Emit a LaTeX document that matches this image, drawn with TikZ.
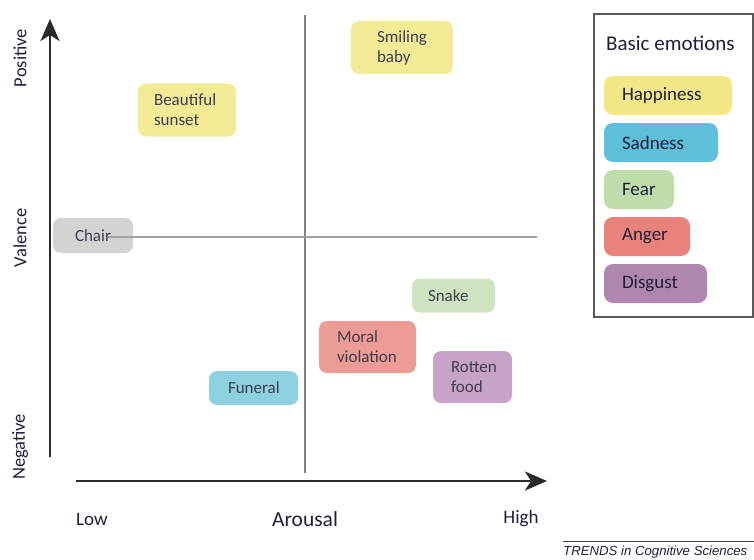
\documentclass[tikz,border=0pt]{standalone}
\usepackage{fontspec}
\setmainfont{Carlito}
\newfontfamily\trendsfont{Liberation Sans}
\usetikzlibrary{arrows.meta}

% box fills: lighter tints in the plot, stronger ones in the key
\definecolor{happyC}{HTML}{F3EA96}
\definecolor{sadC}{HTML}{8DD0E0}
\definecolor{fearC}{HTML}{CFE3C1}
\definecolor{angerC}{HTML}{EC9C94}
\definecolor{disgustC}{HTML}{C7A3C7}
\definecolor{neutralC}{HTML}{D3D3D3}
\definecolor{happyK}{HTML}{F2E685}
\definecolor{sadK}{HTML}{5DBFD9}
\definecolor{fearK}{HTML}{BFDCAB}
\definecolor{angerK}{HTML}{E8827A}
\definecolor{disgustK}{HTML}{AF86AF}
\definecolor{boxtext}{HTML}{3E3E52}
\definecolor{keytext}{HTML}{1E1E3C}
\definecolor{axiscol}{HTML}{2A2A2A}
\definecolor{guidecol}{HTML}{A0A0A0}

\tikzset{
  stimbox/.style n args={3}{rectangle, rounded corners=8pt, draw=none,
    minimum height=#2, inner ysep=0pt, inner xsep=#3,
    text width=#1-2*#3, align=left, font=\fontsize{17}{20}\selectfont,
    text=boxtext},
  keybox/.style n args={2}{rectangle, rounded corners=9pt, draw=none,
    minimum height=39pt, inner ysep=0pt, inner xsep=18pt,
    text width=#1-36pt, align=left, font=\fontsize{19}{22}\selectfont,
    text=keytext, fill=#2},
  axislabel/.style={font=\fontsize{18.5}{22}\selectfont, text=keytext,
    rotate=90, inner sep=0pt},
  scalelabel/.style={font=\fontsize{19}{22}\selectfont, text=keytext,
    inner sep=0pt},
  axis/.style={draw=axiscol, line width=2.6pt,
    -{Stealth[length=22pt,width=19pt,inset=6pt]}},
  guide/.style={draw=guidecol, line width=1.4pt},
}

\begin{document}
\begin{tikzpicture}[x=1pt,y=-1pt]
\useasboundingbox (0,0) rectangle (754,559);

% stimuli placed by arousal (x) and valence (y)
\node[stimbox={102pt}{53pt}{26pt}, fill=happyC] (baby) at (402,47.5) {Smiling\\baby};
\node[stimbox={98pt}{53pt}{16pt}, fill=happyC] (sunset) at (187,110) {Beautiful\\sunset};
\node[stimbox={80pt}{35pt}{22pt}, fill=neutralC] (chair) at (93,235.5) {Chair};
\node[stimbox={83pt}{34pt}{16pt}, fill=fearC] (snake) at (453.5,295.5) {Snake};
\node[stimbox={97pt}{52pt}{18pt}, fill=angerC] (moral) at (367.5,347) {Moral\\violation};
\node[stimbox={79pt}{52pt}{18pt}, fill=disgustC] (rotten) at (472.5,377) {Rotten\\food};
\node[stimbox={89pt}{34pt}{19pt}, fill=sadC] (funeral) at (253.5,388) {Funeral};

% quadrant guides
\coordinate (vtop) at (305,15);
\coordinate (vbot) at (305,473);
\coordinate (hleft) at (108,237);
\coordinate (hright) at (537,237);
\draw[guide, draw=guidecol!80!black, line width=1.1pt] (vtop) -- (vbot);
\draw[guide] (hleft) -- (hright);

% axes
\coordinate (yfoot) at (50,457);
\coordinate (ytip) at (50,19);
\coordinate (xfoot) at (76,481);
\coordinate (xtip) at (547,481);
\draw[axis] (yfoot) -- (ytip);
\draw[axis] (xfoot) -- (xtip);

% axis labels
\node[axislabel] (pos) at (20,58) {Positive};
\node[axislabel] (val) at (20,238) {Valence};
\node[axislabel] (neg) at (20,447) {Negative};
\node[scalelabel] (low) at (92,519) {Low};
\node[scalelabel, font=\fontsize{21.5}{24}\selectfont] (arousal) at (305,519) {Arousal};
\node[scalelabel] (high) at (521,519) {High};

% key
\node[draw=black!65, line width=1.2pt, minimum width=159pt, minimum height=303pt,
      inner sep=0pt] (key) at (673.5,165.5) {};
\node[anchor=west, inner sep=0pt, text=keytext,
      font=\fontsize{21}{24}\selectfont] (keytitle) at (606,43) {Basic emotions};
\node[keybox={128pt}{happyK}] (khappy) at (668,95.5) {Happiness};
\node[keybox={114pt}{sadK}] (ksad) at (661,142.5) {Sadness};
\node[keybox={70pt}{fearK}] (kfear) at (639,189.5) {Fear};
\node[keybox={86pt}{angerK}] (kanger) at (647,236.5) {Anger};
\node[keybox={103pt}{disgustK}] (kdisgust) at (655.5,283.5) {Disgust};

% journal tag
\coordinate (rulea) at (563,541);
\coordinate (ruleb) at (754,541);
\draw[black!75, line width=0.9pt] (rulea) -- (ruleb);
\node[anchor=base west, inner sep=0pt, text=keytext,
      font=\trendsfont\itshape\fontsize{13.2}{15}\selectfont] (trends) at (563,555)
      {TRENDS in Cognitive Sciences};
\end{tikzpicture}
\end{document}
